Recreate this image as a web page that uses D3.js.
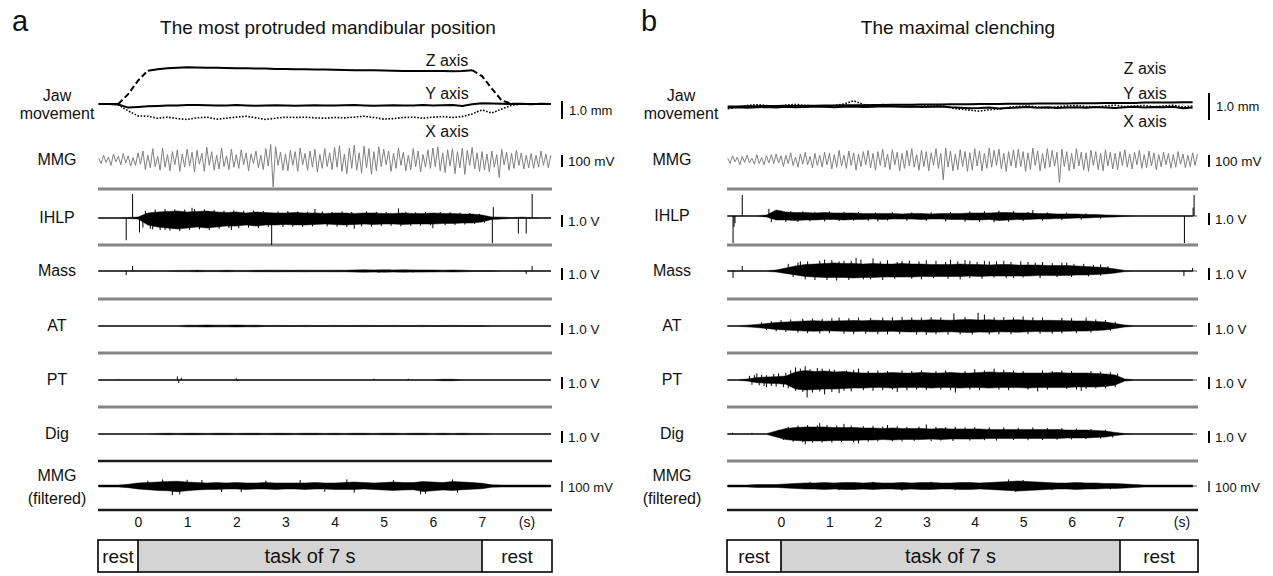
<!DOCTYPE html>
<html>
<head>
<meta charset="utf-8">
<script src="https://cdn.jsdelivr.net/npm/d3@7"></script>
<style>
  body { margin: 0; background: #fff; }
  svg text { font-family: "Liberation Sans", Arial, Helvetica, sans-serif; fill: #111; }
</style>
</head>
<body>
<svg id="chart" width="1273" height="576"></svg>
<script>
"use strict";

//Texts of the figure
var titles = ["The most protruded mandibular position", "The maximal clenching"];
var panelLetters = ["a", "b"];
var rowLabels = ["MMG", "IHLP", "Mass", "AT", "PT", "Dig"];
var scaleLabels = ["100 mV", "1.0 V", "1.0 V", "1.0 V", "1.0 V", "1.0 V"];
var axisNames = ["Z axis", "Y axis", "X axis"];
var timeTicks = [0, 1, 2, 3, 4, 5, 6, 7];
var phaseLabels = ["rest", "task of 7 s", "rest"];

//Sampling of the traces (s)
var stepA = 0.2, startA = -0.8;   //47 samples, panel a
var stepB = 0.2, startB = -1.1;   //49 samples, panel b
var mmgStep = 0.05;               //raw MMG half cycles

//Jaw movement (mm), panel a
var jawA_Z = [0,0,0,0.55,1.3,1.85,1.93,1.98,2.02,2.04, 2.03,2.02,2.02,2.0,1.99,1.98,1.97,1.97,1.95,1.94,
  1.93,1.93,1.92,1.91,1.9,1.89,1.88,1.87,1.87,1.86, 1.85,1.84,1.84,1.84,1.83,1.83,1.82,1.84,1.88,1.55,
  0.85,0.2,0.02,0,0,0,0];
var jawA_Y = [0,0,-0.03,-0.2,-0.17,-0.13,-0.11,-0.09,-0.08,-0.06, -0.05,-0.07,-0.09,-0.08,-0.06,-0.08,-0.1,-0.09,-0.07,-0.08,
  -0.1,-0.09,-0.07,-0.08,-0.09,-0.07,-0.06,-0.08,-0.1,-0.08, -0.07,-0.09,-0.08,-0.06,-0.08,-0.07,-0.05,-0.11,-0.02,0.04,
  0.03,0.01,0,0.01,-0.01,0.01,0];
var jawA_X = [0,0,-0.05,-0.38,-0.66,-0.68,-0.79,-0.73,-0.81,-0.86, -0.77,-0.73,-0.84,-0.79,-0.73,-0.68,-0.77,-0.86,-0.79,-0.73,
  -0.75,-0.73,-0.77,-0.79,-0.75,-0.77,-0.73,-0.68,-0.75,-0.84, -0.81,-0.75,-0.73,-0.79,-0.73,-0.7,-0.75,-0.7,-0.55,-0.33,
  -0.5,-0.28,-0.07,0,-0.02,0.01,0];

//Jaw movement (mm), panel b
var jawB_Z = [-0.02,-0.02,-0.01,-0.01,0,0,0.01,0,0.01,0.01, 0.02,0.02,0.03,0.03,0.03,0.04,0.04,0.05,0.05,0.05,
  0.06,0.06,0.06,0.07,0.07,0.07,0.08,0.08,0.08,0.09, 0.09,0.09,0.1,0.1,0.1,0.1,0.11,0.11,0.11,0.12,
  0.12,0.12,0.12,0.13,0.13,0.13,0.13,0.14,0.14];
var jawB_Y = [-0.06,-0.05,-0.07,-0.05,-0.04,-0.06,-0.03,-0.05,-0.04,-0.02, -0.03,-0.05,-0.03,-0.02,-0.04,-0.03,-0.01,-0.02,-0.03,-0.02,
  -0.04,-0.03,-0.02,-0.05,-0.07,-0.09,-0.08,-0.06,-0.1,-0.08, -0.06,-0.04,-0.07,-0.05,-0.08,-0.06,-0.05,-0.07,-0.04,-0.06,
  -0.08,-0.05,-0.03,-0.06,-0.04,-0.05,-0.03,-0.09,-0.06];
var jawB_X = [-0.1,-0.04,0.02,0.05,0.02,-0.02,0.03,0.06,0.02,0.0, -0.03,0.02,0.08,0.2,0.06,0.0,0.06,0.02,-0.02,-0.04,
  0.0,0.04,0.02,-0.06,-0.12,-0.16,-0.2,-0.14,-0.12,-0.05, -0.02,0.0,-0.04,-0.08,-0.03,0.0,0.02,-0.02,-0.04,0.0,
  0.03,-0.02,0.0,0.02,-0.03,0.0,0.03,-0.04,0.0];

//Raw MMG (mV), one value per half cycle
var mmgA = [15,-30,40,-20,25,-45,50,-15,30,-40,55,-25,35,-50,20,-45,
  60,-35,75,-80,40,-65,95,-55,30,-85,100,-60,45,-90,70,-40,85,-95,50,-60,
  90,-50,65,-100,80,-35,55,-95,105,-45,70,-85,40,-75,100,-55,35,-80,90,-60,
  45,-70,85,-40,60,-90,50,-30,75,-65,40,-80,95,-50,130,-225,110,-45,65,-85,
  50,-90,80,-45,70,-95,100,-40,55,-85,75,-60,90,-100,45,-70,95,-55,60,-80,
  105,-60,120,-95,50,-115,100,-70,125,-85,60,-110,115,-65,95,-120,70,-90,110,-55,
  90,-40,75,-95,55,-70,100,-45,65,-90,40,-80,95,-55,75,-100,45,-60,85,-70,
  100,-55,110,-90,60,-105,85,-50,95,-115,70,-65,100,-120,80,-45,105,-75,60,-95,
  70,-85,50,-100,75,-60,45,-145,90,-40,65,-85,55,-70,80,-45,60,-75,40,-65,
  55,-70,40,-60,75,-45,50,-65,40];
var mmgB = [15,-30,35,-15,25,-40,30,-20,40,-25,15,-35,45,-30,20,-40,35,-25,45,-30,
  50,-25,35,-55,40,-30,60,-45,25,-60,50,-35,65,-40,30,-65,55,-45,40,-60,
  65,-40,55,-75,45,-60,80,-50,40,-70,75,-45,60,-85,50,-55,70,-40,80,-65,
  55,-85,70,-45,90,-60,50,-80,85,-40,65,-90,55,-70,80,-50,95,-60,45,-85,
  80,-55,70,-90,60,-45,95,-70,55,-165,100,-60,75,-90,50,-80,85,-55,70,-95,
  60,-85,95,-50,75,-90,55,-70,100,-60,80,-45,90,-75,55,-95,70,-50,85,-65,
  90,-55,70,-95,60,-80,100,-45,75,-90,55,-70,95,-60,80,-50,65,-190,90,-55,
  70,-90,55,-75,95,-50,65,-85,60,-95,80,-45,70,-80,55,-90,85,-50,65,-75,
  55,-80,70,-45,85,-60,50,-75,65,-40,80,-70,45,-65,75,-50,60,-80,45,-55,
  65,-40,55,-70,45,-60,70,-35,50,-65,40,-55,60,-45,50];

//EMG envelopes, panel a (V, upper and lower amplitude)
var ihlpA_hi = [0.03,0.03,0.03,0.04,0.08,0.42,0.5,0.54,0.58,0.5, 0.54,0.58,0.5,0.46,0.5,0.42,0.5,0.46,0.42,0.42,
  0.46,0.42,0.42,0.38,0.42,0.42,0.38,0.42,0.42,0.38, 0.38,0.42,0.38,0.38,0.42,0.38,0.38,0.33,0.33,0.25,
  0.08,0.07,0.04,0.07,0.04,0.03,0.03];
var ihlpA_lo = [0.03,0.03,0.03,0.04,0.08,0.58,0.75,0.83,0.92,0.83, 0.75,0.83,0.75,0.67,0.67,0.58,0.67,0.58,0.58,0.54,
  0.58,0.58,0.54,0.5,0.54,0.58,0.54,0.5,0.54,0.5, 0.5,0.54,0.5,0.5,0.5,0.46,0.46,0.42,0.42,0.33,
  0.12,0.08,0.04,0.04,0.04,0.03,0.03];
var ihlpA_spikes = [[-0.24,-1.85],[-0.11,2.0],[0.03,-1.2],[0.25,-0.9],[0.55,-1.0],[1.1,0.85],[1.9,-1.0],[2.72,-2.25],
  [3.6,0.75],[4.4,-0.9],[5.3,0.8],[6.0,-0.85],[7.21,-2.1],[7.23,0.9],[7.74,-1.3],[7.9,-1.3],[8.02,2.0],
  [0.15,0.6],[0.35,0.7],[0.55,0.75],[0.75,0.72],[0.95,0.7],[1.15,0.75],[1.35,0.72],[1.55,0.68],[1.75,0.62],
  [1.95,0.65],[2.15,0.6],[2.35,0.62],[2.55,0.58],[2.85,0.55],[3.05,0.58],[3.25,0.55],[3.45,0.52],[3.75,0.55],
  [3.95,0.5],[4.15,0.55],[4.35,0.5],[4.65,0.55],[4.85,0.52],[5.05,0.5],[5.45,0.52],[5.65,0.48],[5.85,0.5],
  [6.15,0.5],[6.35,0.48],[6.55,0.45],[6.75,0.42],[6.95,0.35],
  [0.1,-0.8],[0.3,-0.95],[0.45,-1.0],[0.65,-1.05],[0.85,-1.1],[1.05,-1.0],[1.25,-0.95],[1.45,-1.0],[1.65,-0.9],
  [1.85,-0.85],[2.05,-0.85],[2.25,-0.8],[2.45,-0.85],[2.65,-0.75],[2.95,-0.75],[3.15,-0.72],[3.35,-0.75],
  [3.55,-0.7],[3.85,-0.7],[4.05,-0.72],[4.25,-0.75],[4.55,-0.7],[4.75,-0.72],[4.95,-0.68],[5.15,-0.65],
  [5.35,-0.7],[5.55,-0.65],[5.75,-0.65],[5.95,-0.62],[6.25,-0.6],[6.45,-0.58],[6.65,-0.55],[6.85,-0.5],[7.05,-0.4]];
var massA_hi = [0.03,0.03,0.03,0.03,0.03,0.03,0.03,0.03,0.05,0.05, 0.06,0.05,0.05,0.06,0.05,0.05,0.06,0.06,0.07,0.06,
  0.06,0.07,0.06,0.06,0.07,0.06,0.09,0.1,0.09,0.1, 0.09,0.1,0.09,0.09,0.08,0.07,0.08,0.07,0.04,0.04,
  0.04,0.03,0.03,0.03,0.03,0.03,0.03];
var massA_spikes = [[-0.24,-0.33],[-0.11,0.42],[7.9,-0.25],[8.02,0.42],[4.9,-0.15],[5.1,0.12],[5.6,-0.14],[1.2,0.08]];
var atA_hi = [0.03,0.03,0.03,0.03,0.03,0.03,0.03,0.03,0.03,0.07, 0.06,0.08,0.07,0.07,0.08,0.06,0.07,0.04,0.05,0.04,
  0.04,0.05,0.04,0.04,0.05,0.04,0.04,0.05,0.04,0.04, 0.05,0.04,0.04,0.05,0.04,0.04,0.05,0.04,0.04,0.04,
  0.03,0.03,0.03,0.03,0.03,0.03,0.03];
var ptA_hi = [0.03,0.03,0.03,0.03,0.03,0.03,0.03,0.03,0.03,0.03, 0.03,0.03,0.03,0.03,0.03,0.03,0.03,0.03,0.03,0.03,
  0.03,0.03,0.03,0.03,0.03,0.03,0.03,0.03,0.03,0.03, 0.03,0.03,0.03,0.03,0.03,0.06,0.06,0.03,0.03,0.03,
  0.03,0.03,0.03,0.03,0.03,0.03,0.03];
var ptA_spikes = [[0.8,0.3],[0.83,-0.25],[0.88,0.2],[2.0,0.15],[2.03,-0.1],[-0.4,0.08],[4.8,0.1],[5.5,0.1]];
var digA_hi = [0.03,0.03,0.03,0.03,0.03,0.03,0.05,0.06,0.05,0.06, 0.06,0.05,0.06,0.06,0.05,0.06,0.06,0.05,0.06,0.06,
  0.05,0.06,0.06,0.05,0.06,0.05,0.06,0.06,0.05,0.06, 0.06,0.05,0.06,0.06,0.05,0.06,0.05,0.06,0.05,0.05,
  0.03,0.03,0.03,0.03,0.03,0.03,0.03];
//filtered MMG (mV)
var mmgfA_hi = [8,8,8,14,25,29,33,37,40,33, 29,25,29,25,29,25,25,29,25,25, 25,25,29,25,25,29,33,29,25,29,
  33,29,29,37,33,29,37,33,29,23, 10,8,8,8,8,8,8];
var mmgfA_lo = [8,8,8,14,25,31,37,40,48,40, 33,29,29,25,25,29,25,25,29,25, 25,29,25,25,29,29,29,25,29,33,
  37,33,31,46,40,33,37,31,27,23, 10,8,8,8,8,8,8];
var mmgfA_spikes = [[0.7,-75],[0.85,-70],[0.5,55],[1.3,50],[2.1,-50],[3.3,50],[4.25,55],[4.4,-55],[5.75,-70],
  [5.85,-65],[6.4,55],[6.5,-55],[2.6,45],[1.7,-50],[0.2,45],[1.0,52],[3.8,-48],[5.2,48]];

//EMG envelopes, panel b (V)
var ihlpB_hi = [0.03,0.03,0.03,0.03,0.08,0.5,0.33,0.29,0.29,0.25, 0.29,0.25,0.25,0.25,0.21,0.21,0.21,0.21,0.17,0.21,
  0.21,0.17,0.21,0.21,0.21,0.25,0.25,0.25,0.29,0.29, 0.25,0.25,0.21,0.21,0.17,0.17,0.17,0.13,0.13,0.08,
  0.07,0.04,0.03,0.03,0.03,0.03,0.03,0.03,0.03];
var ihlpB_lo = [0.03,0.03,0.03,0.03,0.08,0.33,0.33,0.38,0.33,0.33, 0.29,0.29,0.33,0.29,0.29,0.25,0.29,0.25,0.25,0.25,
  0.29,0.25,0.25,0.29,0.29,0.33,0.33,0.29,0.38,0.33, 0.29,0.29,0.25,0.25,0.21,0.21,0.17,0.17,0.13,0.1,
  0.08,0.04,0.03,0.03,0.03,0.03,0.03,0.03,0.03];
var ihlpB_spikes = [[-0.99,-2.25],[-0.97,-0.9],[-0.95,-0.6],[-0.8,1.75],[-0.25,0.6],[-0.2,-0.5],[2.0,-0.45],[5.2,0.5],
  [8.33,-2.25],[8.51,0.7],[8.53,1.75],
  [0.0,0.45],[0.2,0.4],[0.45,0.38],[0.7,0.35],[1.0,0.4],[1.3,0.35],[1.6,0.33],[1.95,0.3],[2.3,0.32],[2.7,0.3],
  [3.1,0.3],[3.5,0.35],[3.9,0.38],[4.2,0.4],[4.5,0.45],[4.8,0.42],[5.1,0.35],[5.5,0.3],[5.9,0.28],[6.3,0.22],
  [0.1,-0.5],[0.35,-0.5],[0.6,-0.45],[0.9,-0.45],[1.2,-0.42],[1.5,-0.4],[1.8,-0.4],[2.2,-0.38],[2.6,-0.4],
  [3.0,-0.42],[3.4,-0.45],[3.8,-0.48],[4.1,-0.5],[4.4,-0.52],[4.7,-0.48],[5.0,-0.42],[5.4,-0.4],[5.8,-0.35],
  [6.2,-0.3],[6.6,-0.22]];
var massB_hi = [0.03,0.03,0.03,0.03,0.03,0.08,0.25,0.42,0.54,0.58, 0.63,0.67,0.63,0.63,0.58,0.63,0.58,0.58,0.63,0.58,
  0.58,0.54,0.54,0.54,0.58,0.54,0.54,0.5,0.54,0.54, 0.5,0.5,0.5,0.46,0.46,0.46,0.42,0.38,0.33,0.29,
  0.17,0.05,0.03,0.03,0.03,0.03,0.03,0.03,0.03];
var massB_lo = [0.03,0.03,0.03,0.03,0.03,0.08,0.21,0.33,0.46,0.5, 0.54,0.54,0.54,0.58,0.54,0.54,0.5,0.5,0.5,0.5,
  0.46,0.46,0.46,0.46,0.46,0.42,0.46,0.42,0.42,0.42, 0.42,0.42,0.38,0.38,0.38,0.38,0.33,0.33,0.29,0.25,
  0.17,0.05,0.03,0.03,0.03,0.03,0.03,0.03,0.03];
var massB_spikes = [[-0.99,-0.58],[-0.8,0.42],[0.4,0.8],[0.9,0.95],[1.3,0.85],[1.55,1.1],[1.9,1.05],[2.5,0.85],
  [3.0,0.9],[3.5,0.95],[3.9,0.85],[4.3,0.8],[4.6,0.85],[5.1,0.75],[5.9,0.7],[6.6,0.55],[0.7,-0.75],[1.7,-0.7],
  [2.7,-0.65],[3.7,-0.7],[4.8,-0.6],[8.32,-0.42],[8.5,0.25],
  [0.15,0.6],[0.35,0.7],[0.55,0.8],[0.8,0.85],[1.05,0.9],[1.2,0.8],[1.45,0.85],[1.65,0.95],[2.05,0.8],[2.2,0.9],
  [2.4,0.75],[2.65,0.85],[2.85,0.8],[3.2,0.85],[3.4,0.75],[3.65,0.8],[3.8,0.9],[4.05,0.75],[4.2,0.85],[4.45,0.8],
  [4.75,0.75],[4.95,0.8],[5.25,0.7],[5.4,0.75],[5.6,0.65],[5.8,0.7],[6.05,0.6],[6.25,0.6],[6.45,0.5],[6.75,0.4],
  [0.25,-0.5],[0.5,-0.7],[0.95,-0.75],[1.15,-0.8],[1.4,-0.75],[1.85,-0.7],[2.1,-0.75],[2.35,-0.65],[2.9,-0.7],
  [3.15,-0.6],[3.45,-0.65],[3.9,-0.6],[4.15,-0.65],[4.4,-0.55],[4.65,-0.6],[5.0,-0.55],[5.35,-0.6],[5.7,-0.5],
  [6.0,-0.5],[6.35,-0.45],[6.6,-0.4]];
var atB_hi = [0.03,0.03,0.07,0.13,0.21,0.29,0.33,0.38,0.42,0.44, 0.4,0.42,0.44,0.46,0.44,0.48,0.46,0.44,0.48,0.5,
  0.48,0.52,0.5,0.48,0.52,0.54,0.5,0.52,0.48,0.5, 0.52,0.48,0.46,0.48,0.46,0.44,0.42,0.42,0.38,0.33,
  0.21,0.08,0.03,0.03,0.03,0.03,0.03,0.03,0.03];
var atB_spikes = [[3.57,1.05],[4.07,1.1],[4.2,0.95],[2.5,0.75],[5.0,0.8],[6.3,0.7],[1.2,0.7],[2.0,-0.7],
  [3.0,-0.75],[4.5,-0.7],[5.6,-0.65],
  [-0.4,0.3],[-0.2,0.4],[0.0,0.5],[0.2,0.55],[0.45,0.6],[0.65,0.62],[0.85,0.6],[1.05,0.65],[1.4,0.65],[1.6,0.7],
  [1.85,0.68],[2.1,0.7],[2.3,0.72],[2.7,0.72],[2.9,0.7],[3.1,0.75],[3.3,0.72],[3.8,0.75],[4.4,0.72],[4.6,0.75],
  [4.8,0.7],[5.2,0.72],[5.4,0.7],[5.8,0.68],[6.0,0.65],[6.5,0.55],[6.7,0.5],[6.9,0.35],
  [-0.3,-0.35],[-0.1,-0.45],[0.1,-0.5],[0.35,-0.55],[0.55,-0.6],[0.8,-0.62],[1.0,-0.6],[1.3,-0.65],[1.5,-0.68],
  [1.75,-0.65],[2.2,-0.7],[2.45,-0.68],[2.8,-0.72],[3.2,-0.7],[3.45,-0.72],[3.7,-0.7],[3.95,-0.72],[4.3,-0.7],
  [4.75,-0.7],[5.1,-0.68],[5.35,-0.65],[5.8,-0.62],[6.1,-0.6],[6.4,-0.55],[6.8,-0.4]];
var ptB_hi = [0.03,0.03,0.08,0.2,0.25,0.28,0.33,0.67,0.79,0.71, 0.75,0.67,0.71,0.63,0.58,0.58,0.58,0.63,0.58,0.58,
  0.63,0.58,0.58,0.63,0.58,0.58,0.63,0.67,0.63,0.63, 0.58,0.58,0.58,0.58,0.63,0.58,0.58,0.58,0.54,0.5,
  0.42,0.08,0.03,0.03,0.03,0.03,0.03,0.03,0.03];
var ptB_lo = [0.03,0.03,0.08,0.22,0.27,0.3,0.35,0.75,0.83,0.79, 0.75,0.75,0.71,0.67,0.67,0.63,0.63,0.67,0.63,0.63,
  0.63,0.67,0.63,0.63,0.67,0.63,0.63,0.67,0.63,0.63, 0.63,0.67,0.63,0.63,0.63,0.63,0.58,0.58,0.58,0.54,
  0.42,0.08,0.03,0.03,0.03,0.03,0.03,0.03,0.03];
var ptB_spikes = [[0.54,-1.45],[0.3,1.05],[0.5,1.15],[0.75,1.0],[0.9,-1.2],[1.2,-1.1],[1.6,0.95],[2.4,-1.0],
  [3.6,-1.05],[4.0,0.9],[4.4,0.95],[5.3,-0.95],[6.2,-0.9],[-0.5,0.55],[-0.3,-0.6],
  [-0.65,0.35],[-0.55,0.4],[-0.4,0.45],[-0.3,0.4],[-0.15,0.5],[-0.05,0.55],[0.1,0.6],[0.2,0.8],[0.4,0.95],
  [0.6,0.9],[0.85,0.95],[1.0,0.9],[1.1,0.85],[1.35,0.8],[1.5,0.85],[1.8,0.75],[2.0,0.8],[2.2,0.75],[2.5,0.8],
  [2.7,0.75],[2.9,0.8],[3.2,0.75],[3.4,0.8],[3.8,0.75],[4.2,0.8],[4.6,0.85],[4.8,0.8],[5.0,0.75],[5.4,0.8],
  [5.6,0.75],[5.8,0.8],[6.0,0.75],[6.4,0.75],[6.6,0.7],[6.8,0.65],[6.95,0.55],
  [-0.6,-0.4],[-0.45,-0.45],[-0.35,-0.5],[-0.2,-0.5],[-0.1,-0.55],[0.05,-0.6],[0.15,-0.7],[0.3,-0.9],[0.45,-1.0],
  [0.65,-1.05],[0.8,-0.95],[1.05,-1.0],[1.3,-0.9],[1.45,-0.95],[1.7,-0.85],[1.9,-0.9],[2.1,-0.85],[2.3,-0.8],
  [2.6,-0.85],[2.8,-0.8],[3.0,-0.85],[3.3,-0.8],[3.5,-0.85],[3.9,-0.8],[4.1,-0.85],[4.5,-0.8],[4.7,-0.85],
  [5.1,-0.8],[5.5,-0.8],[5.9,-0.75],[6.1,-0.8],[6.3,-0.75],[6.5,-0.7],[6.7,-0.7],[6.9,-0.6]];
var digB_hi = [0.03,0.03,0.03,0.03,0.03,0.25,0.46,0.54,0.58,0.58, 0.58,0.54,0.54,0.54,0.5,0.5,0.46,0.5,0.46,0.46,
  0.46,0.42,0.46,0.42,0.42,0.42,0.42,0.38,0.38,0.38, 0.38,0.38,0.38,0.38,0.38,0.33,0.33,0.33,0.29,0.25,
  0.13,0.04,0.03,0.03,0.03,0.03,0.03,0.03,0.03];
var digB_spikes = [[0.8,0.9],[1.3,0.85],[2.2,0.75],[3.0,0.8],[0.5,-0.85],[1.6,-0.8],[-1.0,0.1],[-0.6,0.1],
  [-0.05,0.35],[0.15,0.6],[0.35,0.7],[0.55,0.75],[0.75,0.72],[0.95,0.75],[1.15,0.7],[1.45,0.7],[1.7,0.65],
  [1.9,0.68],[2.1,0.62],[2.4,0.65],[2.6,0.6],[2.85,0.62],[3.2,0.6],[3.4,0.58],[3.6,0.6],[3.8,0.55],[4.0,0.58],
  [4.3,0.55],[4.6,0.55],[4.9,0.52],[5.2,0.55],[5.5,0.5],[5.8,0.5],[6.1,0.45],[6.4,0.42],[6.7,0.35],
  [0.05,-0.5],[0.25,-0.65],[0.45,-0.7],[0.65,-0.72],[0.85,-0.7],[1.05,-0.72],[1.25,-0.68],[1.5,-0.7],[1.8,-0.65],
  [2.0,-0.62],[2.3,-0.6],[2.5,-0.62],[2.75,-0.58],[3.1,-0.6],[3.3,-0.55],[3.55,-0.58],[3.9,-0.55],[4.2,-0.52],
  [4.45,-0.55],[4.8,-0.5],[5.1,-0.52],[5.4,-0.5],[5.7,-0.48],[6.0,-0.45],[6.3,-0.42],[6.6,-0.38],[6.85,-0.3]];
var mmgfB_hi = [8,8,8,12,12,12,17,21,25,25, 29,25,29,29,25,29,25,25,29,25, 29,29,25,25,29,29,25,29,33,37,
  42,37,33,29,25,25,29,25,25,21, 21,17,12,8,8,8,8,8,8];
var mmgfB_spikes = [[0.6,35],[1.2,-35],[1.9,35],[2.5,-38],[3.1,35],[3.6,-35],[4.7,55],[4.85,-50],[5.0,50],
  [5.6,-35],[6.2,30],[6.8,-28]];

var svg = d3.select("#chart");

//Layout of the two panels
var panels = [
  {letter: panelLetters[0], title: titles[0], left: 98, right: 552, x0: 138, x7: 482, titleX: 328,
   labelX: 57, jawLabelX: 57, barX: 562, sUnitX: 527, start: startA, step: stepA,
   jawBase: 104, jawPx: 18, jawBar: [101, 119], axisNameX: 447, axisNameY: [60, 93, 131],
   jaw: [jawA_Z, jawA_Y, jawA_X], zDash: [[-0.4, 0.2], [6.8, 7.6]], mmg: mmgA,
   ihlpBase: 218,
   emg: [
     {hi: ihlpA_hi, lo: ihlpA_lo, spikes: ihlpA_spikes},
     {hi: massA_hi, spikes: massA_spikes},
     {hi: atA_hi, spikes: []},
     {hi: ptA_hi, spikes: ptA_spikes},
     {hi: digA_hi, spikes: []}
   ],
   mmgf: {hi: mmgfA_hi, lo: mmgfA_lo, spikes: mmgfA_spikes},
   darkSeps: [5, 6]},
  {letter: panelLetters[1], title: titles[1], left: 727, right: 1198, x0: 781, x7: 1120, titleX: 958,
   labelX: 672, jawLabelX: 681, barX: 1209, sUnitX: 1182, start: startB, step: stepB,
   jawBase: 106, jawPx: 26, jawBar: [93, 120], axisNameX: 1145, axisNameY: [68, 93, 121],
   jaw: [jawB_Z, jawB_Y, jawB_X], zDash: [], mmg: mmgB,
   ihlpBase: 216,
   emg: [
     {hi: ihlpB_hi, lo: ihlpB_lo, spikes: ihlpB_spikes},
     {hi: massB_hi, lo: massB_lo, spikes: massB_spikes},
     {hi: atB_hi, spikes: atB_spikes},
     {hi: ptB_hi, lo: ptB_lo, spikes: ptB_spikes},
     {hi: digB_hi, spikes: digB_spikes}
   ],
   mmgf: {hi: mmgfB_hi, spikes: mmgfB_spikes},
   darkSeps: [6]}
];

var rowBase = {mmg: 160, mass: 271, at: 326, pt: 380, dig: 434, mmgf: 486};
var sepYs = [189, 245, 299, 353, 407, 461, 510];
var pxPerUnit = 12;   //1.0 V or 100 mV

panels.forEach(drawPanel);

function drawPanel(p) {
  var g = svg.append("g");
  var x = d3.scaleLinear().domain([0, 7]).range([p.x0, p.x7]);
  var tEnd = x.invert(p.right - 1);
  var tStart = x.invert(p.left);

  //Letter and title
  g.append("text").attr("x", p.left - 86).attr("y", 31)
    .attr("font-size", "29px").text(p.letter);
  g.append("text").attr("x", p.titleX).attr("y", 34)
    .attr("font-size", "19px").attr("text-anchor", "middle").text(p.title);

  //Separators between the traces
  sepYs.forEach(function(sy, i) {
    var dark = p.darkSeps.indexOf(i) >= 0;
    g.append("line")
      .attr("x1", p.left).attr("x2", p.right)
      .attr("y1", sy).attr("y2", sy)
      .attr("stroke", dark ? "#1b1b1b" : "#858585")
      .attr("stroke-width", dark ? 2.4 : 3);
  });

  //Jaw movement
  var yJaw = d3.scaleLinear().domain([-1, 1])
    .range([p.jawBase + p.jawPx, p.jawBase - p.jawPx]);
  var jawPts = p.jaw.map(function(arr) {
    return arr.map(function(v, i) { return {t: p.start + i * p.step, v: v}; });
  });
  var jawLine = d3.line().x(function(d) { return x(d.t); }).y(function(d) { return yJaw(d.v); });

  //Z axis: solid plateau, dashed ramps
  var edges = [tStart - 1];
  p.zDash.forEach(function(w) { edges.push(w[0], w[1]); });
  edges.push(tEnd + 1);
  for (var k = 0; k < edges.length - 1; k++) {
    var seg = jawPts[0].filter(function(d) { return d.t >= edges[k] - 1e-6 && d.t <= edges[k + 1] + 1e-6; });
    g.append("path").datum(seg).attr("d", jawLine)
      .attr("fill", "none").attr("stroke", "#000").attr("stroke-width", 2)
      .attr("stroke-dasharray", k % 2 === 1 ? "6,3" : null);
  }
  g.append("path").datum(jawPts[1]).attr("d", jawLine)
    .attr("fill", "none").attr("stroke", "#000").attr("stroke-width", 2);
  g.append("path").datum(jawPts[2]).attr("d", jawLine)
    .attr("fill", "none").attr("stroke", "#000").attr("stroke-width", 1.6)
    .attr("stroke-dasharray", "1.6,1.6");

  axisNames.forEach(function(n, i) {
    g.append("text").attr("x", p.axisNameX).attr("y", p.axisNameY[i]).attr("dy", "0.35em")
      .attr("font-size", "16px").attr("text-anchor", "middle").text(n);
  });

  g.append("text").attr("x", p.jawLabelX).attr("y", 95).attr("dy", "0.35em")
    .attr("font-size", "16px").attr("text-anchor", "middle").text("Jaw");
  g.append("text").attr("x", p.jawLabelX).attr("y", 113).attr("dy", "0.35em")
    .attr("font-size", "16px").attr("text-anchor", "middle").text("movement");

  g.append("line").attr("x1", p.barX).attr("x2", p.barX)
    .attr("y1", p.jawBar[0]).attr("y2", p.jawBar[1])
    .attr("stroke", "#000").attr("stroke-width", 2);
  g.append("text").attr("x", p.barX + 7).attr("y", (p.jawBar[0] + p.jawBar[1]) / 2).attr("dy", "0.35em")
    .attr("font-size", "13px").text("1.0 mm");

  //Raw MMG
  var yMmg = d3.scaleLinear().domain([-100, 100])
    .range([rowBase.mmg + pxPerUnit, rowBase.mmg - pxPerUnit]);
  g.append("path")
    .datum(p.mmg.map(function(v, i) { return {t: p.start + i * mmgStep, v: v}; }))
    .attr("d", d3.line().x(function(d) { return x(d.t); }).y(function(d) { return yMmg(d.v); }))
    .attr("fill", "none").attr("stroke", "#808080").attr("stroke-width", 1);

  //EMG rows
  var bases = [p.ihlpBase, rowBase.mass, rowBase.at, rowBase.pt, rowBase.dig];
  p.emg.forEach(function(e, r) {
    var base = bases[r];
    var y = d3.scaleLinear().domain([-1, 1]).range([base + pxPerUnit, base - pxPerUnit]);
    drawBand(g, x, y, p, e, tStart, tEnd);
  });

  //Filtered MMG
  var yF = d3.scaleLinear().domain([-100, 100])
    .range([rowBase.mmgf + pxPerUnit, rowBase.mmgf - pxPerUnit]);
  drawBand(g, x, yF, p, p.mmgf, tStart, tEnd);

  //Row labels and scale bars
  var labelYs = [rowBase.mmg, p.ihlpBase, rowBase.mass, rowBase.at, rowBase.pt, rowBase.dig];
  rowLabels.forEach(function(lab, i) {
    g.append("text").attr("x", p.labelX).attr("y", labelYs[i] - 1).attr("dy", "0.35em")
      .attr("font-size", "16px").attr("text-anchor", "middle").text(lab);
    var c = labelYs[i] + (i === 0 ? 1 : 3);
    g.append("line").attr("x1", p.barX).attr("x2", p.barX)
      .attr("y1", c - pxPerUnit / 2).attr("y2", c + pxPerUnit / 2)
      .attr("stroke", "#000").attr("stroke-width", 2);
    g.append("text").attr("x", p.barX + 6).attr("y", c).attr("dy", "0.35em")
      .attr("font-size", "13.5px").text(scaleLabels[i]);
  });
  g.append("text").attr("x", p.labelX).attr("y", rowBase.mmgf - 11).attr("dy", "0.35em")
    .attr("font-size", "16px").attr("text-anchor", "middle").text("MMG");
  g.append("text").attr("x", p.labelX).attr("y", rowBase.mmgf + 12).attr("dy", "0.35em")
    .attr("font-size", "16px").attr("text-anchor", "middle").text("(filtered)");
  g.append("line").attr("x1", p.barX).attr("x2", p.barX)
    .attr("y1", rowBase.mmgf - 5).attr("y2", rowBase.mmgf + 6)
    .attr("stroke", "#000").attr("stroke-width", 1.3);
  g.append("text").attr("x", p.barX + 6).attr("y", rowBase.mmgf + 1).attr("dy", "0.35em")
    .attr("font-size", "13px").text("100 mV");

  //Time axis
  var axis = g.append("g").attr("transform", "translate(0,517)")
    .call(d3.axisBottom(x).tickValues(timeTicks).tickSize(0).tickPadding(0).tickFormat(d3.format("d")));
  axis.select(".domain").remove();
  axis.selectAll("text").attr("font-size", "14px")
    .style("font-family", "'Liberation Sans', Arial, sans-serif").attr("fill", "#111");
  g.append("text").attr("x", p.sUnitX).attr("y", 517).attr("dy", "0.71em")
    .attr("font-size", "14px").attr("text-anchor", "middle").text("(s)");

  //Rest / task box
  var by = 540, bh = 32;
  g.append("rect").attr("x", x(0)).attr("y", by).attr("width", x(7) - x(0)).attr("height", bh)
    .attr("fill", "#d4d4d4");
  g.append("rect").attr("x", p.left).attr("y", by).attr("width", p.right - p.left).attr("height", bh)
    .attr("fill", "none").attr("stroke", "#000").attr("stroke-width", 1.6);
  [0, 7].forEach(function(t) {
    g.append("line").attr("x1", x(t)).attr("x2", x(t)).attr("y1", by).attr("y2", by + bh)
      .attr("stroke", "#000").attr("stroke-width", 1.6);
  });
  var mids = [(p.left + x(0)) / 2, (x(0) + x(7)) / 2, (x(7) + p.right) / 2];
  phaseLabels.forEach(function(lab, i) {
    g.append("text").attr("x", mids[i]).attr("y", by + bh / 2).attr("dy", "0.35em")
      .attr("font-size", i === 1 ? "20px" : "19px").attr("text-anchor", "middle").text(lab);
  });
}

//Dense EMG trace drawn as its envelope band plus the single spikes
function drawBand(g, x, y, p, e, tStart, tEnd) {
  var pts = e.hi.map(function(h, i) {
    return {t: p.start + i * p.step, h: h, l: e.lo ? e.lo[i] : h};
  });
  g.append("line")
    .attr("x1", x(tStart)).attr("x2", x(tEnd))
    .attr("y1", y(0)).attr("y2", y(0))
    .attr("stroke", "#333").attr("stroke-width", 0.9);
  g.append("path").datum(pts)
    .attr("d", d3.area()
      .x(function(d) { return x(d.t); })
      .y0(function(d) { return y(-d.l); })
      .y1(function(d) { return y(d.h); }))
    .attr("fill", "#000").attr("stroke", "#000").attr("stroke-width", 0.5);
  (e.spikes || []).forEach(function(s) {
    g.append("line")
      .attr("x1", x(s[0])).attr("x2", x(s[0]))
      .attr("y1", y(0)).attr("y2", y(s[1]))
      .attr("stroke", "#000").attr("stroke-width", 1);
  });
}
</script>
</body>
</html>
